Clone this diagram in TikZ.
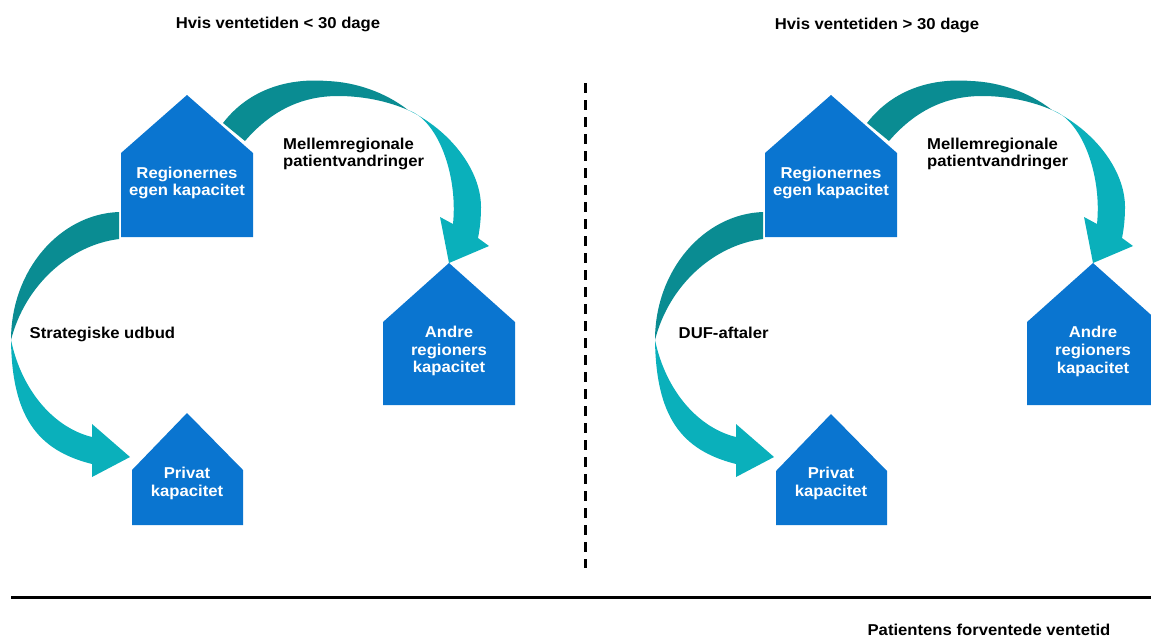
\documentclass[tikz,border=0pt]{standalone}
\usepackage{fontspec}
\setmainfont{Liberation Sans}[FakeStretch=1.06]
\usepackage{xcolor}
\definecolor{houseblue}{HTML}{0A75D0}
\definecolor{darkteal}{HTML}{0A8C92}
\definecolor{lightteal}{HTML}{0AB0BB}
\tikzset{
  house/.style={fill=houseblue},
  archtop/.style={fill=darkteal},
  archlow/.style={fill=lightteal},
  houselabel/.style={text=white,font=\bfseries\fontsize{11.8}{13.4}\selectfont,align=center},
  blacklabel/.style={text=black,font=\bfseries\fontsize{11.8}{13.4}\selectfont,align=left},
}

\begin{document}
\begin{tikzpicture}[x=0.75pt,y=-0.75pt]
\useasboundingbox (0,0) rectangle (1151,637);
% left side
\fill [house] (187,95) -- (253,153) -- (253,237) -- (121,237) -- (121,153) -- cycle;
\fill [house] (449,263) -- (515,322) -- (515,405) -- (383,405) -- (383,322) -- cycle;
\fill [house] (187,413) -- (243,470) -- (243,525) -- (132,525) -- (132,470) -- cycle;
\fill [archtop] (119,212) .. controls (60,214) and (11,270) .. (11,340) .. controls (25,285) and (70,245) .. (119,239) -- cycle;
\fill [archlow] (11,340) .. controls (12,415) and (36,450) .. (92,464) -- (92,477) -- (130,457) -- (92,424) -- (92,437) .. controls (55,428) and (22,392) .. cycle;
\fill [archtop] (223,123) .. controls (250,88) and (290,78) .. (327,81) .. controls (355,82) and (385,92) .. (408,110) .. controls (385,100) and (360,96) .. (338,96) .. controls (300,96) and (270,112) .. (245,141) -- cycle;
\fill [archlow] (408,110) .. controls (450,130) and (481,170) .. (481,207) .. controls (481,218) and (480,228) .. (478,238) -- (489,246) -- (449,263) -- (440,217) -- (453,224) .. controls (458,175) and (438,120) .. cycle;
\node [houselabel] (own1) at (187,183) {Regionernes\\egen kapacitet};
\node [houselabel] (other1) at (449,351) {Andre\\regioners\\kapacitet};
\node [houselabel] (priv1) at (187,483.5) {Privat\\kapacitet};
\node [blacklabel,anchor=west] (inter1) at (278.5,154) {Mellemregionale\\patientvandringer};
\node [blacklabel,anchor=west] (tender) at (25,334.5) {Strategiske udbud};
\node [blacklabel] (head1) at (278,24.5) {Hvis ventetiden < 30 dage};
% right side
\begin{scope}[xshift=483pt]
\fill [house] (187,95) -- (253,153) -- (253,237) -- (121,237) -- (121,153) -- cycle;
\fill [house] (449,263) -- (515,322) -- (515,405) -- (383,405) -- (383,322) -- cycle;
\fill [house] (187,414) -- (243,471) -- (243,525) -- (132,525) -- (132,471) -- cycle;
\fill [archtop] (119,212) .. controls (60,214) and (11,270) .. (11,340) .. controls (25,285) and (70,245) .. (119,239) -- cycle;
\fill [archlow] (11,340) .. controls (12,415) and (36,450) .. (92,464) -- (92,477) -- (130,457) -- (92,424) -- (92,437) .. controls (55,428) and (22,392) .. cycle;
\fill [archtop] (223,123) .. controls (250,88) and (290,78) .. (327,81) .. controls (355,82) and (385,92) .. (408,110) .. controls (385,100) and (360,96) .. (338,96) .. controls (300,96) and (270,112) .. (245,141) -- cycle;
\fill [archlow] (408,110) .. controls (450,130) and (481,170) .. (481,207) .. controls (481,218) and (480,228) .. (478,238) -- (489,246) -- (449,263) -- (440,217) -- (453,224) .. controls (458,175) and (438,120) .. cycle;
\node [houselabel] (own2) at (187,183) {Regionernes\\egen kapacitet};
\node [houselabel] (other2) at (449,351.5) {Andre\\regioners\\kapacitet};
\node [houselabel] (priv2) at (187,483.5) {Privat\\kapacitet};
\node [blacklabel,anchor=west] (inter2) at (278.5,154) {Mellemregionale\\patientvandringer};
\node [blacklabel,anchor=west] (duf) at (30,333) {DUF-aftaler};
\node [blacklabel] (head2) at (233,25) {Hvis ventetiden > 30 dage};
\end{scope}
% dividers
\coordinate (divtop) at (585,83);
\coordinate (divbot) at (585,568);
\draw [line width=2.25pt,dash pattern=on 7.5pt off 5.25pt] (divtop) -- (divbot);
\coordinate (axisl) at (11,597);
\coordinate (axisr) at (1151,597);
\draw [line width=2.25pt] (axisl) -- (axisr);
\node [blacklabel,anchor=base,inner sep=0pt] (wait) at (989,635.5) {Patientens forventede ventetid};
\end{tikzpicture}
\end{document}
